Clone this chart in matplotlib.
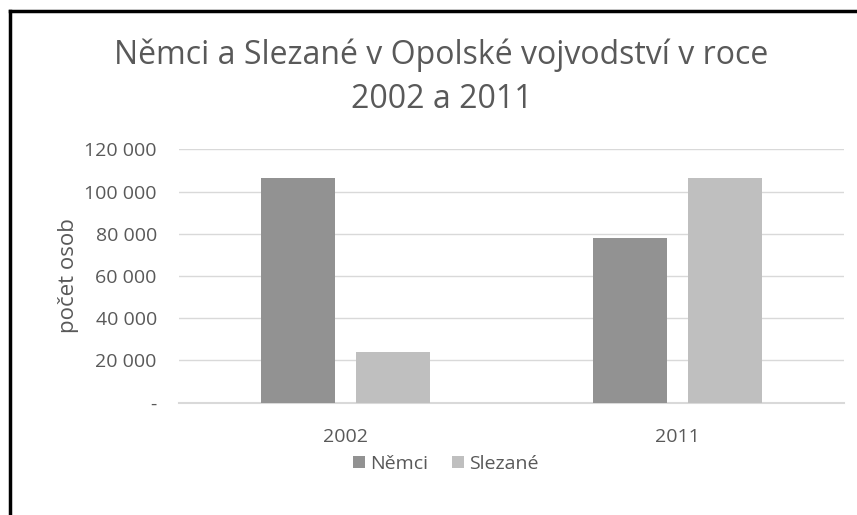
import matplotlib.pyplot as plt
from matplotlib.lines import Line2D
import numpy as np

# data
years = ["2002", "2011"]
nemci = [106500, 78000]
slezane = [24000, 106500]
yticks = [0, 20000, 40000, 60000, 80000, 100000, 120000]
ytick_labels = ["-", "20 000", "40 000", "60 000", "80 000", "100 000", "120 000"]

text_col = "#595959"
plt.rcParams['font.family'] = ['Open Sans', 'DejaVu Sans']

fig = plt.figure(figsize=(8.57, 5.15), dpi=100)
ax = fig.add_axes([179/857, 1 - 402.7/515, 665/857, 253.4/515])

x = np.arange(len(years))
w = 0.2226
off = 0.1428
ax.bar(x - off, nemci, w, color="#929292", label="Němci", zorder=3)
ax.bar(x + off, slezane, w, color="#bfbfbf", label="Slezané", zorder=3)

ax.set_xlim(-0.5, 1.5)
ax.set_ylim(0, 120000)
ax.set_yticks(yticks)
ax.set_yticklabels(ytick_labels, color=text_col, fontsize=14)
ax.set_xticks(x)
ax.set_xticklabels(years, color=text_col, fontsize=14)
ax.tick_params(length=0)
ax.tick_params(axis='y', pad=16)
ax.tick_params(axis='x', pad=18)
ax.grid(axis='y', color="#d9d9d9", linewidth=1, zorder=0)
for s in ["top", "right", "left"]:
    ax.spines[s].set_visible(False)
ax.spines["bottom"].set_color("#d9d9d9")
ax.spines["bottom"].set_linewidth(1.5)

ax.set_ylabel("počet osob", color=text_col, fontsize=16, labelpad=4)

fig.text(0.515, 1 - 108/515, "Němci a Slezané v Opolské vojvodství v roce\n2002 a 2011",
         ha="center", va="baseline", fontsize=23, color=text_col, linespacing=1.45)

fig.legend(loc="center", bbox_to_anchor=(446/857, 1 - 464/515), ncol=2, frameon=False,
           fontsize=14, labelcolor=text_col, handlelength=0.6, handleheight=0.6,
           handletextpad=0.3, columnspacing=1.2)

# black border from the original image (cropped at right and bottom)
fig.add_artist(Line2D([10/857, 10/857], [0, 1 - 11/515], transform=fig.transFigure,
                      color="black", linewidth=2.5))
fig.add_artist(Line2D([10/857, 1], [1 - 11/515, 1 - 11/515], transform=fig.transFigure,
                      color="black", linewidth=2.5))

fig.savefig("out.png", dpi=100)
